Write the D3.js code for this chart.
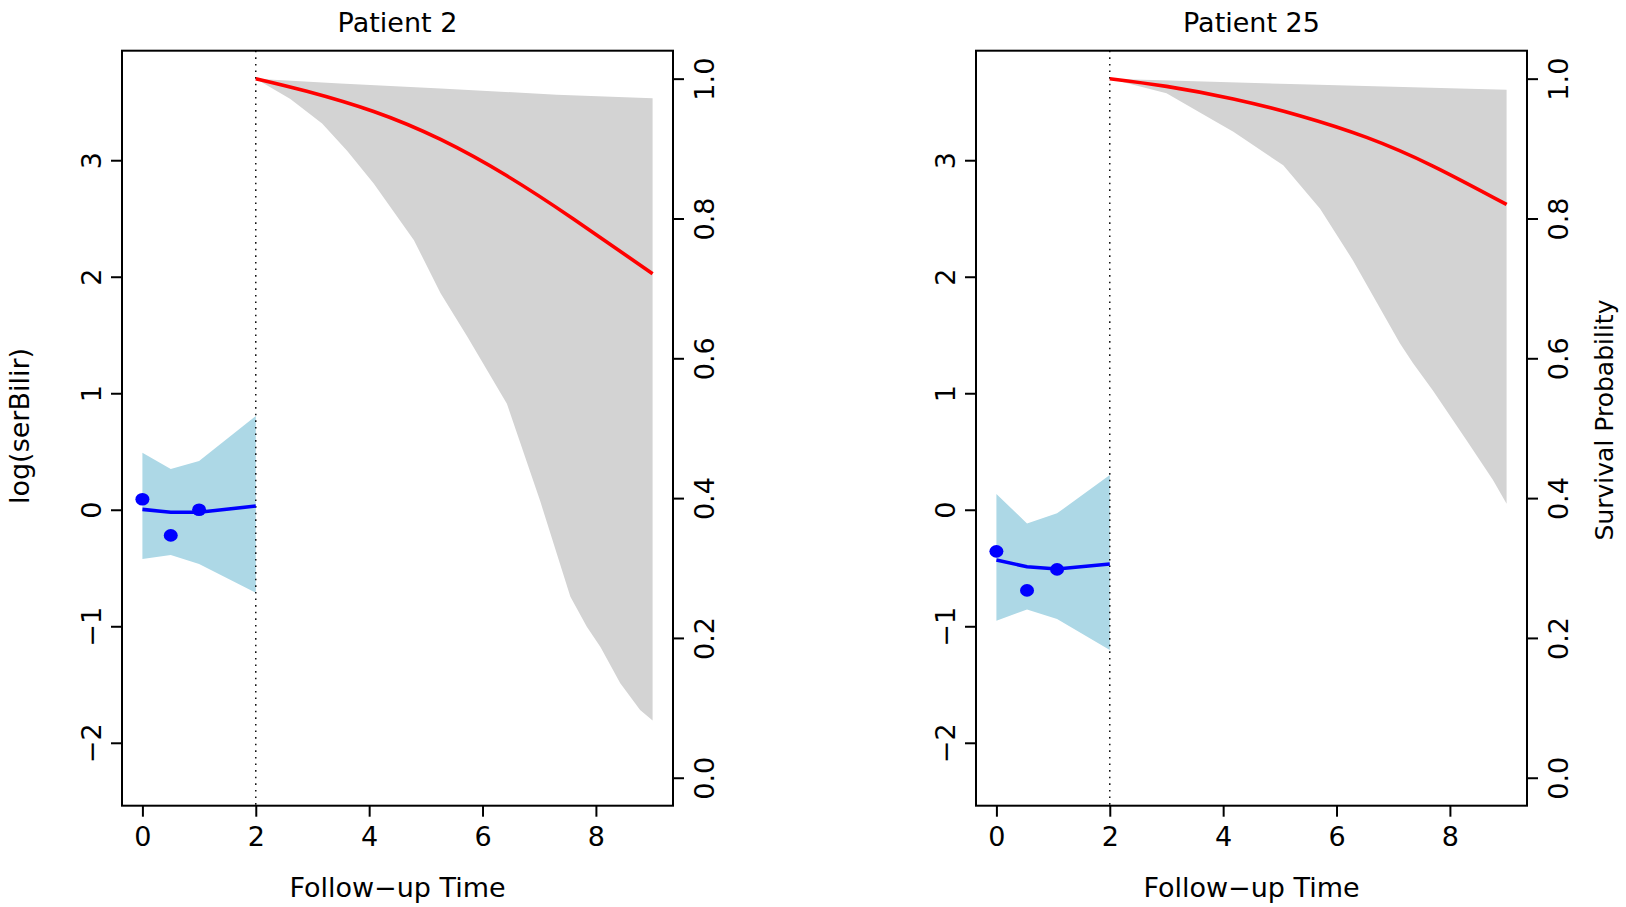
<!DOCTYPE html>
<html>
<head>
<meta charset="utf-8">
<script src="https://cdn.jsdelivr.net/npm/d3@7"></script>
<style>
  html, body { margin: 0; padding: 0; background: #fff; }
  svg { display: block; font-family: "DejaVu Sans", sans-serif; }
</style>
</head>
<body>
<svg id="chart" width="1626" height="907"></svg>
<script>
// ---------- data ----------
const timeTicks = [0, 2, 4, 6, 8];
const logTicks = [-2, -1, 0, 1, 2, 3];
const survTicks = [0, 0.2, 0.4, 0.6, 0.8, 1.0];
const landmarkTime = 2;

// Patient 2
const p2Title = "Patient 2";
const p2ObsTime = [0, 0.5, 1.0];
const p2ObsValue = [0.09, -0.22, 0.0];
const p2FitTime = [0, 0.5, 1.0, 2.0];
const p2FitValue = [0.003, -0.022, -0.022, 0.032];
const p2FitUpper = [0.489, 0.349, 0.418, 0.804];
const p2FitLower = [-0.423, -0.389, -0.466, -0.712];
const p2SurvTime = [2, 2.9, 4.08, 5.26, 6.43, 7.61, 9.0];
const p2SurvMean = [1.0, 0.982, 0.953, 0.913, 0.861, 0.799, 0.721];
const p2UpperTime = [2, 3.49, 5.26, 7.31, 9.0];
const p2UpperValue = [1.0, 0.993, 0.986, 0.977, 0.972];
const p2LowerTime = [2, 2.61, 3.17, 3.61, 4.08, 4.79, 5.26, 5.73, 6.43, 7.02, 7.55, 7.84, 8.08, 8.43, 8.78, 9.0];
const p2LowerValue = [1.0, 0.971, 0.936, 0.897, 0.85, 0.769, 0.693, 0.631, 0.535, 0.395, 0.259, 0.216, 0.187, 0.135, 0.097, 0.082];

// Patient 25
const p25Title = "Patient 25";
const p25ObsTime = [0, 0.54, 1.07];
const p25ObsValue = [-0.357, -0.692, -0.512];
const p25FitTime = [0, 0.54, 1.07, 2.0];
const p25FitValue = [-0.432, -0.489, -0.509, -0.466];
const p25FitUpper = [0.135, -0.117, -0.031, 0.298];
const p25FitLower = [-0.953, -0.855, -0.938, -1.204];
const p25SurvTime = [2, 3.0, 4.18, 5.35, 6.53, 7.70, 9.0];
const p25SurvMean = [1.0, 0.989, 0.971, 0.947, 0.916, 0.875, 0.82];
const p25UpperTime = [2, 5.35, 9.0];
const p25UpperValue = [1.0, 0.992, 0.984];
const p25LowerTime = [2, 3.0, 3.88, 4.18, 5.06, 5.71, 6.29, 7.12, 7.35, 7.70, 8.29, 8.76, 9.0];
const p25LowerValue = [1.0, 0.979, 0.938, 0.924, 0.876, 0.814, 0.740, 0.621, 0.593, 0.554, 0.483, 0.426, 0.392];

const xLabel = "Follow\u2212up Time";
const yLabel = "log(serBilir)";
const y2Label = "Survival Probability";

// ---------- drawing ----------
const svg = d3.select("#chart");
const FS = 27;
const plotTop = 50.7, plotBottom = 805.7;
const fmtMinus = d => String(d).replace("-", "\u2212");

function panel(opts) {
  const { left, right, title, obsT, obsV, fitT, fitV, fitU, fitL,
          sT, sM, uT, uV, lT, lV, showLeftLabel, showRightLabel } = opts;
  const g = svg.append("g");
  const x = d3.scaleLinear().domain([-0.36, 9.36]).range([left, right]);
  const y = d3.scaleLinear().domain([-2.54, 3.94]).range([plotBottom, plotTop]);
  const ys = d3.scaleLinear().domain([-0.04, 1.04]).range([plotBottom, plotTop]);

  // survival CI band (grey)
  const upperPts = uT.map((t, i) => [t, uV[i]]);
  const lowerPts = lT.map((t, i) => [t, lV[i]]).reverse();
  const poly = upperPts.concat(lowerPts);
  g.append("path")
    .attr("d", d3.line().x(d => x(d[0])).y(d => ys(d[1]))(poly) + "Z")
    .attr("fill", "#d3d3d3").attr("stroke", "none");

  // longitudinal CI band (light blue)
  g.append("path")
    .datum(fitT.map((t, i) => ({ t, u: fitU[i], l: fitL[i] })))
    .attr("d", d3.area().x(d => x(d.t)).y0(d => y(d.l)).y1(d => y(d.u)))
    .attr("fill", "#add8e6").attr("stroke", "none");

  // dotted landmark line
  g.append("line")
    .attr("x1", x(landmarkTime)).attr("x2", x(landmarkTime))
    .attr("y1", plotTop).attr("y2", plotBottom)
    .attr("stroke", "#000").attr("stroke-width", 1.4)
    .attr("stroke-dasharray", "1.6,5");

  // survival mean (red)
  g.append("path")
    .datum(sT.map((t, i) => [t, sM[i]]))
    .attr("d", d3.line().x(d => x(d[0])).y(d => ys(d[1])).curve(d3.curveNatural))
    .attr("fill", "none").attr("stroke", "#ff0000").attr("stroke-width", 3.6);

  // fitted longitudinal (blue)
  g.append("path")
    .datum(fitT.map((t, i) => [t, fitV[i]]))
    .attr("d", d3.line().x(d => x(d[0])).y(d => y(d[1])))
    .attr("fill", "none").attr("stroke", "#0000ff").attr("stroke-width", 3.6);

  // observed points
  g.selectAll("ellipse.obs").data(obsT.map((t, i) => [t, obsV[i]]))
    .enter().append("ellipse").attr("class", "obs")
    .attr("cx", d => x(d[0])).attr("cy", d => y(d[1]))
    .attr("rx", 7).attr("ry", 6.3).attr("fill", "#0000ff");

  // box
  g.append("rect")
    .attr("x", left).attr("y", plotTop)
    .attr("width", right - left).attr("height", plotBottom - plotTop)
    .attr("fill", "none").attr("stroke", "#000").attr("stroke-width", 2);

  // bottom axis
  const ax = g.append("g").attr("transform", `translate(0,${plotBottom})`)
    .call(d3.axisBottom(x).tickValues(timeTicks).tickSize(11).tickFormat(d3.format("d")));
  ax.select(".domain").remove();
  ax.selectAll("line").attr("stroke-width", 2);
  ax.selectAll("text").attr("y", 40).attr("dy", 0)
    .attr("font-size", FS).attr("font-family", "DejaVu Sans").attr("fill", "#000");

  // left axis
  const ay = g.append("g").attr("transform", `translate(${left},0)`)
    .call(d3.axisLeft(y).tickValues(logTicks).tickSize(11).tickFormat(fmtMinus));
  ay.select(".domain").remove();
  ay.selectAll("line").attr("stroke-width", 2);
  ay.selectAll("text").attr("x", 0).attr("y", -21).attr("dy", 0)
    .attr("transform", "rotate(-90)").attr("text-anchor", "middle")
    .attr("font-size", FS).attr("font-family", "DejaVu Sans").attr("fill", "#000");

  // right axis
  const ar = g.append("g").attr("transform", `translate(${right},0)`)
    .call(d3.axisRight(ys).tickValues(survTicks).tickSize(11).tickFormat(d3.format(".1f")));
  ar.select(".domain").remove();
  ar.selectAll("line").attr("stroke-width", 2);
  ar.selectAll("text").attr("x", 0).attr("y", 41).attr("dy", 0)
    .attr("transform", "rotate(-90)").attr("text-anchor", "middle")
    .attr("font-size", FS).attr("font-family", "DejaVu Sans").attr("fill", "#000");

  const cx = (left + right) / 2;
  // title
  g.append("text").attr("x", cx).attr("y", 31.5).attr("text-anchor", "middle")
    .attr("font-size", FS).text(title);
  // x label
  g.append("text").attr("x", cx).attr("y", 897).attr("text-anchor", "middle")
    .attr("font-size", FS).text(xLabel);
  if (showLeftLabel) {
    g.append("text").attr("transform", `translate(${left - 93},426) rotate(-90)`)
      .attr("text-anchor", "middle").attr("font-size", FS).text(yLabel);
  }
  if (showRightLabel) {
    g.append("text").attr("transform", `translate(${right + 86},420) rotate(-90)`)
      .attr("text-anchor", "middle").attr("font-size", 25).text(y2Label);
  }
}

panel({ left: 122, right: 673, title: p2Title,
  obsT: p2ObsTime, obsV: p2ObsValue, fitT: p2FitTime, fitV: p2FitValue,
  fitU: p2FitUpper, fitL: p2FitLower, sT: p2SurvTime, sM: p2SurvMean,
  uT: p2UpperTime, uV: p2UpperValue, lT: p2LowerTime, lV: p2LowerValue,
  showLeftLabel: true, showRightLabel: false });

panel({ left: 976, right: 1527, title: p25Title,
  obsT: p25ObsTime, obsV: p25ObsValue, fitT: p25FitTime, fitV: p25FitValue,
  fitU: p25FitUpper, fitL: p25FitLower, sT: p25SurvTime, sM: p25SurvMean,
  uT: p25UpperTime, uV: p25UpperValue, lT: p25LowerTime, lV: p25LowerValue,
  showLeftLabel: false, showRightLabel: true });
</script>
</body>
</html>
